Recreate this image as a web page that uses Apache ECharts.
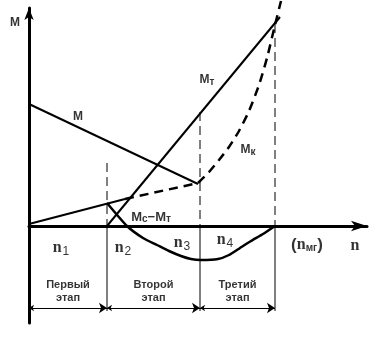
<!DOCTYPE html>
<html><head><meta charset="utf-8">
<script src="https://cdn.jsdelivr.net/npm/echarts@6/dist/echarts.min.js"></script>
<style>html,body{margin:0;padding:0;background:#fff}#c{width:391px;height:339px}</style>
</head><body><div id="c"></div>
<script>
// Chart units: x = speed n, y = torque M (origin where the axes cross)
const curveM    = [[0,122],[169,42]];
const curveMc   = [[0,2],[96,27]];
const curveMt   = [[78,0],[251,209]];
const curveMkLow = [[96,27],[169,43]];
const curveMkHigh = [[169,43],[180,54],[190,66],[200,79],[210,95],[220,115],[230,141],[238,168],[246,201],[252,225]];
const curveDiff = [[78,23],[98,0],[114,-12],[128,-19],[140,-25],[152,-30],[162,-33],[172,-34],[189,-33],[200,-29],[211,-22],[222,-15],[234,-8],[246,0]];
const speedMarks = [78,171,246];      // n at stage boundaries / n_mg
const guideTops  = [63,114,202];      // top of dashed guide lines
const stageBounds = [0,78,171,246];
const stageNames = ['Первый\nэтап','Второй\nэтап','Третий\nэтап'];
const curveLabels = ['{b|M}','{b|M}{s|т}','{b|M}{s|к}','{c|M}{cs|c}{c|−M}{cs|т}'];
const axisLabels  = ['{b|M}','{n|n}','{n|n}{d|1}','{n|n}{d|2}','{n|n}{d|3}','{n|n}{d|4}','{p|(}{n|n}{ms|мг}{p|)}'];

const black = '#000';
const S = 'Liberation Sans', SR = 'Liberation Serif';
const rich = {
  b:{fontFamily:S,fontWeight:'bold',fontSize:12,color:black},
  s:{fontFamily:S,fontWeight:'bold',fontSize:10,color:black,padding:[5,0,0,0]},
  c:{fontFamily:S,fontWeight:'bold',fontSize:13,color:black},
  cs:{fontFamily:S,fontWeight:'bold',fontSize:10,color:black,padding:[5,0,0,0]},
  n:{fontFamily:SR,fontWeight:'bold',fontSize:16,color:black},
  d:{fontFamily:S,fontSize:12,color:black,padding:[7,0,0,1]},
  ms:{fontFamily:S,fontWeight:'bold',fontSize:10,color:black,padding:[7,0,0,0]},
  p:{fontFamily:S,fontWeight:'bold',fontSize:17,color:black},
  st:{fontFamily:S,fontWeight:'bold',fontSize:11,color:black,lineHeight:13}
};
function lineSeries(data, width, dashed, smooth){
  return {type:'line',data:data,symbol:'none',clip:false,smooth:smooth||false,
    lineStyle:{color:black,width:width,type:dashed||'solid'},z:3};
}
const series = [
  lineSeries(curveM,2),
  lineSeries(curveMc,2),
  lineSeries(curveMt,2),
  lineSeries(curveMkLow,2.5,[9,6]),
  lineSeries(curveMkHigh,2.5,[9,6],0.2),
  lineSeries(curveDiff,2.5,'solid',0.2)
];
speedMarks.forEach((x,i)=>{
  series.push(lineSeries([[x,guideTops[i]],[x,0]],1,[9,5]));
  series.push(lineSeries([[x,0],[x,-85]],1));
});
series.push({type:'lines',coordinateSystem:'cartesian2d',symbol:['arrow','arrow'],symbolSize:[5,8],
  lineStyle:{color:black,width:1,opacity:1},
  data:stageNames.map((n,i)=>({coords:[[stageBounds[i],-82],[stageBounds[i+1],-82]]}))});
const labelPos = {
  curve:[[49,109],[178,146],[219,76],[122,9]],
  axis:[[-14,203],[326,-20],[32,-22],[94,-22],[153,-17],[196,-14],[278,-19]]
};
const labelData = [];
curveLabels.forEach((t,i)=>labelData.push({name:t,value:labelPos.curve[i]}));
axisLabels.forEach((t,i)=>labelData.push({name:t,value:labelPos.axis[i]}));
stageNames.forEach((t,i)=>labelData.push({name:'{st|'+t.replace('\n','}\n{st|')+'}',value:[(stageBounds[i]+stageBounds[i+1])/2,-65]}));
series.push({type:'scatter',clip:false,symbolSize:0,data:labelData,z:5,
  label:{show:true,position:'inside',formatter:p=>p.name,rich:rich}});

const chart = echarts.init(document.getElementById('c'),null,{renderer:'canvas'});
chart.setOption({
  animation:false,
  backgroundColor:'#fff',
  grid:{left:29,top:8,width:338,height:315,containLabel:false},
  xAxis:{type:'value',min:0,max:338,splitLine:{show:false},axisTick:{show:false},axisLabel:{show:false},
    axisLine:{onZero:true,symbol:['none','arrow'],symbolSize:[8,16],lineStyle:{color:black,width:3}}},
  yAxis:{type:'value',min:-97,max:218,splitLine:{show:false},axisTick:{show:false},axisLabel:{show:false},
    axisLine:{onZero:false,symbol:['none','arrow'],symbolSize:[7,12],lineStyle:{color:black,width:3}}},
  series:series
});
</script></body></html>
